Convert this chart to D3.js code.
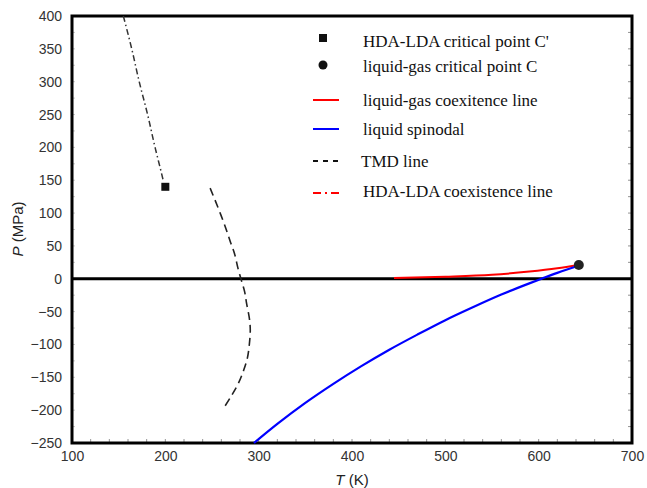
<!DOCTYPE html>
<html>
<head>
<meta charset="utf-8">
<script src="https://cdn.jsdelivr.net/npm/d3@7"></script>
<style>
  body { margin: 0; background: #fff; }
  svg { display: block; }
</style>
</head>
<body>
<div id="chart"></div>
<script>
// T (K), P (MPa)
var hdaLdaLine = [[155, 400], [164, 350], [172, 300], [181, 250], [189, 200], [196, 160], [198, 148]];
var tmdLine = [[248, 138], [256, 110], [264, 80], [270, 55], [274, 39], [278, 15], [281, 0], [285, -20], [287, -37], [290, -60], [291, -78], [290, -100], [288, -120], [284, -139], [278, -160], [270, -180], [262, -198]];
var coexLine = [[445, 1], [500, 3], [550, 6], [590, 11], [620, 16], [643, 21]];
var spinodal = [[295, -250], [320, -221], [350, -189], [380, -160], [410, -133], [440, -108], [470, -85], [500, -63], [530, -43], [560, -24], [590, -7], [603, 0], [620, 9], [641, 19]];
var pointCprime = [200, 140];
var pointC = [643, 21];
var xTicks = [100, 200, 300, 400, 500, 600, 700];
var yTicks = [400, 350, 300, 250, 200, 150, 100, 50, 0, -50, -100, -150, -200, -250];
var legendLabels = ["HDA-LDA critical point C'", "liquid-gas critical point C", "liquid-gas coexitence line", "liquid spinodal", "TMD line", "HDA-LDA coexistence line"];

var W = 647, H = 488;
var margin = { top: 16, right: 15, bottom: 45, left: 72 };

var x = d3.scaleLinear().domain([100, 700]).range([margin.left, W - margin.right]);
var y = d3.scaleLinear().domain([-250, 400]).range([H - margin.bottom, margin.top]);

var svg = d3.select("#chart").append("svg")
  .attr("width", W)
  .attr("height", H);

// minor inward ticks
var minorX = d3.range(120, 700, 20);
svg.append("g").selectAll("line").data(minorX).enter().append("line")
  .attr("x1", d => x(d)).attr("x2", d => x(d))
  .attr("y1", y(-250)).attr("y2", y(-250) - 4)
  .attr("stroke", "#777").attr("stroke-width", 0.8);
var minorY = d3.range(-225, 400, 25);
svg.append("g").selectAll("line").data(minorY).enter().append("line")
  .attr("x1", x(700)).attr("x2", x(700) - 4)
  .attr("y1", d => y(d)).attr("y2", d => y(d))
  .attr("stroke", "#777").attr("stroke-width", 0.8);
svg.append("g").selectAll("line").data(minorY).enter().append("line")
  .attr("x1", x(100)).attr("x2", x(100) + 3)
  .attr("y1", d => y(d)).attr("y2", d => y(d))
  .attr("stroke", "#bbb").attr("stroke-width", 0.8);

// axes (labels only, frame drawn separately)
var xAxis = d3.axisBottom(x).tickValues(xTicks).tickSize(0).tickPadding(8);
var yAxis = d3.axisLeft(y).tickValues(yTicks).tickSize(0).tickPadding(10);

svg.append("g")
  .attr("transform", "translate(0," + y(-250) + ")")
  .call(xAxis)
  .call(g => g.select(".domain").remove())
  .selectAll("text")
  .style("font-family", "Liberation Sans, Arial, sans-serif")
  .style("font-size", "14px")
  .attr("fill", "#333");

svg.append("g")
  .attr("transform", "translate(" + x(100) + ",0)")
  .call(yAxis)
  .call(g => g.select(".domain").remove())
  .selectAll("text")
  .style("font-family", "Liberation Sans, Arial, sans-serif")
  .style("font-size", "14px")
  .attr("fill", "#333");

// frame
svg.append("rect")
  .attr("x", x(100)).attr("y", y(400))
  .attr("width", x(700) - x(100)).attr("height", y(-250) - y(400))
  .attr("fill", "none").attr("stroke", "#000").attr("stroke-width", 3);

// zero line
svg.append("line")
  .attr("x1", x(100)).attr("x2", x(700))
  .attr("y1", y(0)).attr("y2", y(0))
  .attr("stroke", "#000").attr("stroke-width", 3);

var line = d3.line().x(d => x(d[0])).y(d => y(d[1])).curve(d3.curveMonotoneY);
var lineX = d3.line().x(d => x(d[0])).y(d => y(d[1])).curve(d3.curveMonotoneX);

svg.append("path").datum(hdaLdaLine)
  .attr("d", line)
  .attr("fill", "none").attr("stroke", "#333").attr("stroke-width", 1.5)
  .attr("stroke-dasharray", "6,3,1.5,3");

svg.append("path").datum(tmdLine)
  .attr("d", d3.line().x(d => x(d[0])).y(d => y(d[1])).curve(d3.curveCatmullRom))
  .attr("fill", "none").attr("stroke", "#222").attr("stroke-width", 1.6)
  .attr("stroke-dasharray", "8,5");

svg.append("path").datum(coexLine)
  .attr("d", lineX)
  .attr("fill", "none").attr("stroke", "#ff0000").attr("stroke-width", 2);

svg.append("path").datum(spinodal)
  .attr("d", lineX)
  .attr("fill", "none").attr("stroke", "#0000ff").attr("stroke-width", 2.2);

svg.append("rect")
  .attr("x", x(pointCprime[0]) - 4).attr("y", y(pointCprime[1]) - 4)
  .attr("width", 8).attr("height", 8)
  .attr("fill", "#111");

svg.append("circle")
  .attr("cx", x(pointC[0])).attr("cy", y(pointC[1]))
  .attr("r", 5).attr("fill", "#222");

// axis titles
svg.append("text")
  .attr("x", 352).attr("y", 485)
  .attr("text-anchor", "middle")
  .style("font-family", "Liberation Sans, Arial, sans-serif")
  .style("font-size", "15px").attr("fill", "#222")
  .html('<tspan font-style="italic">T</tspan> (K)');

svg.append("text")
  .attr("transform", "translate(23,229) rotate(-90)")
  .attr("text-anchor", "middle")
  .style("font-family", "Liberation Sans, Arial, sans-serif")
  .style("font-size", "15px").attr("fill", "#222")
  .html('<tspan font-style="italic">P</tspan> (MPa)');

// legend
var legTextY = [47, 72, 106, 135, 167, 197];
var leg = svg.append("g");
leg.selectAll("text").data(legendLabels).enter().append("text")
  .attr("x", (d, i) => i === 4 ? 361 : 363)
  .attr("y", (d, i) => legTextY[i])
  .style("font-family", "Liberation Serif, Times New Roman, serif")
  .style("font-size", "17px").attr("fill", "#111")
  .text(d => d);

leg.append("rect").attr("x", 319).attr("y", 34).attr("width", 8).attr("height", 8).attr("fill", "#111");
leg.append("circle").attr("cx", 323).attr("cy", 65).attr("r", 4.5).attr("fill", "#111");
leg.append("line").attr("x1", 313).attr("x2", 339).attr("y1", 100).attr("y2", 100)
  .attr("stroke", "#ff0000").attr("stroke-width", 2);
leg.append("line").attr("x1", 313).attr("x2", 339).attr("y1", 129).attr("y2", 129)
  .attr("stroke", "#0000ff").attr("stroke-width", 2);
leg.append("line").attr("x1", 313).attr("x2", 340).attr("y1", 161).attr("y2", 161)
  .attr("stroke", "#111").attr("stroke-width", 2).attr("stroke-dasharray", "5,5");
leg.append("line").attr("x1", 313).attr("x2", 340).attr("y1", 193).attr("y2", 193)
  .attr("stroke", "#ff0000").attr("stroke-width", 2).attr("stroke-dasharray", "8,4,2,4");
</script>
</body>
</html>
